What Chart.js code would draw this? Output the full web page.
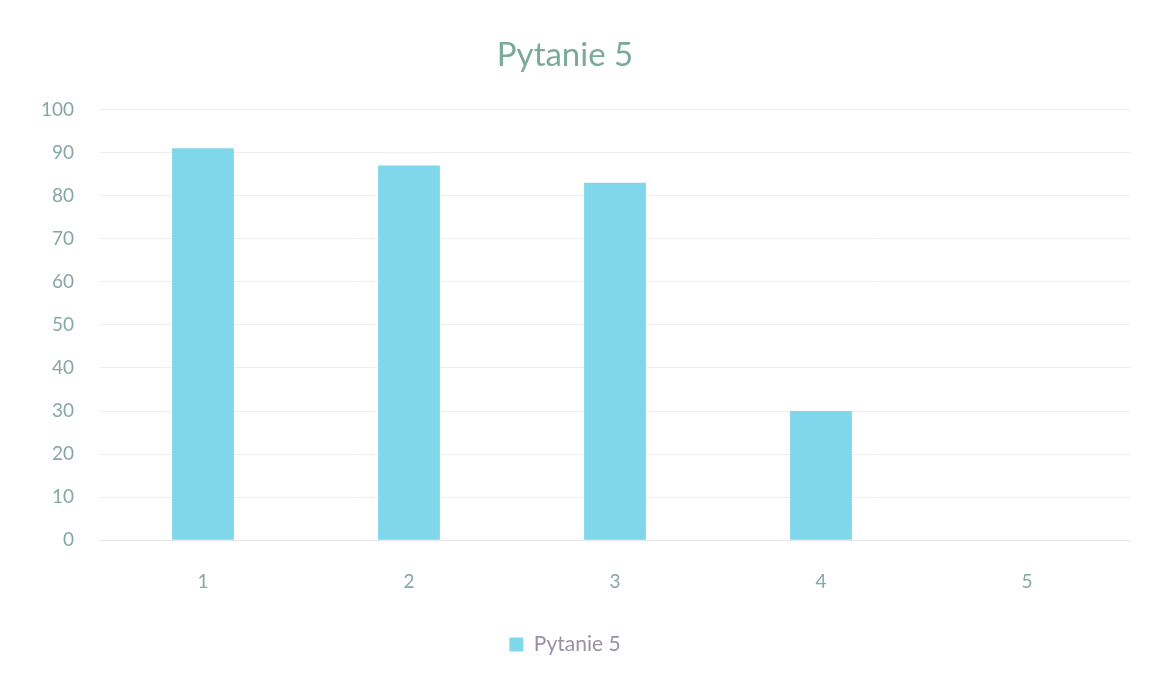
<!DOCTYPE html>
<html lang="pl">
<head>
    <meta charset="UTF-8">
    <title>Pytanie 5</title>
    <script src="https://cdn.jsdelivr.net/npm/chart.js"></script>
    <style>
        body {
            margin: 0;
            padding: 0;
            background: #ffffff;
        }

        .chart-box {
            width: 1149px;
            height: 677px;
        }
    </style>
</head>
<body>
<div class="chart-box">
    <canvas id="question-chart"></canvas>
</div>

<script>
    const categories = ['1', '2', '3', '4', '5'];
    const answers = [91, 87, 83, 30, 0];
    const seriesName = 'Pytanie 5';

    const barColor = '#80d7eb';
    const textColor = '#86a8a4';

    function drawChart() {
        const ctx = document.getElementById('question-chart').getContext('2d');

        new Chart(ctx, {
            type: 'bar',
            data: {
                labels: categories,
                datasets: [{
                    label: seriesName,
                    data: answers,
                    backgroundColor: barColor,
                    borderWidth: 0,
                    barPercentage: 0.3,
                    categoryPercentage: 1.0
                }]
            },
            options: {
                responsive: true,
                maintainAspectRatio: false,
                animation: false,
                layout: {
                    padding: { left: 0, right: 19, top: 36, bottom: 12 }
                },
                plugins: {
                    title: {
                        display: true,
                        text: 'Pytanie 5',
                        color: '#7aaa98',
                        font: { family: 'Lato', size: 33, weight: 'normal' },
                        padding: { top: 0, bottom: 34 }
                    },
                    legend: {
                        position: 'bottom',
                        labels: {
                            color: '#9a8fa6',
                            font: { family: 'Lato', size: 21 },
                            boxWidth: 14,
                            boxHeight: 14,
                            padding: 19
                        }
                    },
                    tooltip: { enabled: false }
                },
                scales: {
                    x: {
                        grid: { display: false },
                        border: { color: '#e6e6e6' },
                        ticks: {
                            color: textColor,
                            font: { family: 'Lato', size: 19 },
                            padding: 22
                        }
                    },
                    y: {
                        min: 0,
                        max: 100,
                        afterFit: (scale) => { scale.width = 100; },
                        grid: { color: '#eeeeee', drawTicks: false },
                        border: { display: false },
                        ticks: {
                            stepSize: 10,
                            color: textColor,
                            font: { family: 'Lato', size: 19 },
                            padding: 26
                        }
                    }
                }
            }
        });
    }

    document.addEventListener('DOMContentLoaded', drawChart);
</script>
</body>
</html>
